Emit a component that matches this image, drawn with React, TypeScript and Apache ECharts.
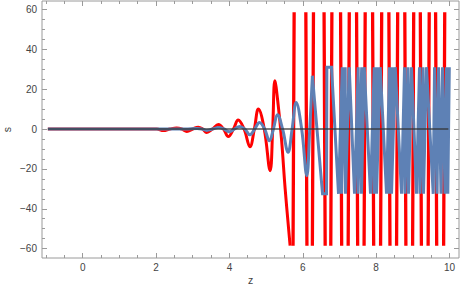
import React, { useEffect, useRef } from "react";
import * as echarts from "echarts";

// ---- axis ranges & ticks ----
const X_MIN = -1.11;
const X_MAX = 10.26;
const Y_MIN = -64.7;
const Y_MAX = 64.2;
const xMajor = [0, 2, 4, 6, 8, 10];
const xMinor = [-1, -0.5, 0.5, 1, 1.5, 2.5, 3, 3.5, 4.5, 5, 5.5, 6.5, 7, 7.5, 8.5, 9, 9.5];
const yMajor = [-60, -40, -20, 0, 20, 40, 60];
const yMinor = [-55, -50, -45, -35, -30, -25, -15, -10, -5, 5, 10, 15, 25, 30, 35, 45, 50, 55];

// ---- red curve (smooth part) ----
const redX = [-0.95, 1.9, 2.02, 2.2, 2.38, 2.56, 2.7, 2.84, 3.0, 3.15, 3.27, 3.38, 3.54, 3.7, 3.84, 3.97, 4.11, 4.24, 4.4, 4.56, 4.68, 4.79, 4.95, 5.11, 5.18, 5.24, 5.33, 5.42, 5.52, 5.655];
const redY = [0, 0, 0, -0.8, 0, 0.5, 0, -1.2, 0, 0.9, 0, -1.7, 0, 2.2, 0, -3.8, 0, 4.5, 0, -8.9, 0, 10, 0, -20.9, 0, 24.2, 12, -5, -30, -58.5];
// red beyond its clip range: x where the curve crosses the visible band (first one rising, then alternating)
const redCrossX = [5.75, 6.099, 6.277, 6.596, 6.779, 7.046, 7.253, 7.482, 7.687, 7.919, 8.137, 8.363, 8.573, 8.797, 9.01, 9.22, 9.433, 9.637, 9.856];
const RED_CLIP = 58.5;

// ---- blue curve ----
const blueX = [-0.95, 2.8, 3.12, 3.25, 3.38, 3.54, 3.7, 3.85, 4.0, 4.14, 4.28, 4.42, 4.56, 4.69, 4.82, 4.96, 5.09, 5.2, 5.31, 5.45, 5.6, 5.71, 5.82, 5.97, 6.11, 6.19, 6.263];
const blueY = [0, 0, 0.3, 0, -0.7, 0, 0.7, 0, -1.4, 0, 1.3, 0, -2.9, 0, 3.3, 0, -5.9, 0, 7.2, 0, -11.7, 0, 13.3, 0, -23.4, 0, 26.7];
// blue clipped part (polyline between its clip levels)
const blueClipX = [6.263, 6.539, 6.648, 6.657, 6.784,
  6.975, 7.076, 7.057, 7.158, 7.166, 7.267,
  7.411, 7.512, 7.507, 7.607, 7.602, 7.676,
  7.847, 7.948, 7.943, 8.03, 8.011, 8.112,
  8.284, 8.365, 8.352, 8.439, 8.42, 8.521,
  8.693, 8.775, 8.788, 8.87, 8.883, 8.965,
  9.102, 9.183, 9.197, 9.279, 9.292, 9.374,
  9.557, 9.593, 9.661, 9.702, 9.77, 9.811, 9.879, 9.92, 9.955, 9.996];
const blueClipY = [26.7, -32.5, -32.5, 31, 31,
  -32.5, 31, -32.5, 31, -32.5, 31,
  -32.5, 31, -32.5, 31, -32.5, 31,
  -32.5, 31, -32.5, 31, -32.5, 31,
  -32.5, 31, -32.5, 31, -32.5, 31,
  -32.5, 31, -32.5, 31, -32.5, 31,
  -32.5, 31, -32.5, 31, -32.5, 31,
  -32.5, 31, -32.5, 31, -32.5, 31, -32.5, 31, -32.5, 31];

// ---- zero line ----
const zeroX = [-0.95, 9.97];
const zeroY = [0, 0];

const RED = "#ff0000";
const BLUE = "#5e81b5";
const FRAME = "#9a9a9a";
const LABEL = "#444444";
const FONT = "Liberation Sans, Arial, sans-serif";

const minus = (v: number) => String(v).replace("-", "\u2212");

function zip(xs: number[], ys: number[]) {
  return xs.map((x, i) => [x, ys[i]]);
}

export default function App() {
  const ref = useRef<HTMLDivElement>(null);
  useEffect(() => {
    if (!ref.current) return;
    const chart = echarts.init(ref.current, null, { renderer: "svg" });

    const strokeHalf = 0.015;
    const redStrokes: any[] = [];
    redCrossX.forEach((x, i) => {
      const up = i % 2 === 0;
      redStrokes.push([x - strokeHalf, up ? -RED_CLIP : RED_CLIP]);
      redStrokes.push([x + strokeHalf, up ? RED_CLIP : -RED_CLIP]);
      redStrokes.push([x + strokeHalf, null]);
    });

    const xAx = (pos: string, values: number[], len: number, labels: boolean, extra: any = {}) => ({
      type: "value",
      min: X_MIN,
      max: X_MAX,
      position: pos,
      axisLine: { show: false, onZero: false },
      splitLine: { show: false },
      axisTick: { show: true, inside: true, length: len, customValues: values, lineStyle: { color: FRAME, width: 1 } },
      axisLabel: labels
        ? { show: true, customValues: values, margin: 4, color: LABEL, fontSize: 10, fontFamily: FONT, formatter: (v: number) => minus(v) }
        : { show: false },
      ...extra,
    });
    const yAx = (pos: string, values: number[], len: number, labels: boolean, extra: any = {}) => ({
      type: "value",
      min: Y_MIN,
      max: Y_MAX,
      position: pos,
      axisLine: { show: false, onZero: false },
      splitLine: { show: false },
      axisTick: { show: true, inside: true, length: len, customValues: values, lineStyle: { color: FRAME, width: 1 } },
      axisLabel: labels
        ? { show: true, customValues: values, margin: 5, color: LABEL, fontSize: 10, fontFamily: FONT, formatter: (v: number) => minus(v) }
        : { show: false },
      ...extra,
    });

    chart.setOption({
      animation: false,
      grid: {
        left: 42, right: 1, top: 1, bottom: 34,
        containLabel: false, outerBoundsMode: "none",
        show: true, borderColor: FRAME, borderWidth: 1, backgroundColor: "transparent",
      },
      xAxis: [
        xAx("bottom", xMajor, 5, true, {
          name: "z",
          nameLocation: "middle",
          nameGap: 16,
          nameMoveOverlap: false,
          nameTextStyle: { color: LABEL, fontSize: 10.5, fontFamily: FONT },
        }),
        xAx("bottom", xMinor, 3, false),
        xAx("top", xMajor, 5, false),
        xAx("top", xMinor, 3, false),
      ],
      yAxis: [
        yAx("left", yMajor, 5, true, {
          name: "s",
          nameLocation: "middle",
          nameGap: 30,
          nameRotate: 90,
          nameMoveOverlap: false,
          nameTextStyle: { color: LABEL, fontSize: 10.5, fontFamily: FONT },
        }),
        yAx("left", yMinor, 3, false),
        yAx("right", yMajor, 5, false),
        yAx("right", yMinor, 3, false),
      ],
      series: [
        {
          type: "line",
          data: zip(redX, redY),
          smooth: 0.4,
          showSymbol: false,
          symbol: "none",
          lineStyle: { color: RED, width: 3 },
          z: 2,
        },
        {
          type: "line",
          data: redStrokes,
          showSymbol: false,
          symbol: "none",
          connectNulls: false,
          lineStyle: { color: RED, width: 3.3 },
          z: 2,
        },
        {
          type: "line",
          data: zip(blueX, blueY),
          smooth: 0.4,
          showSymbol: false,
          symbol: "none",
          lineStyle: { color: BLUE, width: 3 },
          z: 3,
        },
        {
          type: "line",
          data: zip(blueClipX, blueClipY),
          showSymbol: false,
          symbol: "none",
          lineStyle: { color: BLUE, width: 3, join: "miter" },
          z: 3,
        },
        {
          type: "line",
          data: zip(zeroX, zeroY),
          showSymbol: false,
          symbol: "none",
          lineStyle: { color: "#333333", width: 1.5, opacity: 0.85 },
          z: 4,
        },
      ],
    });
    return () => chart.dispose();
  }, []);
  return <div ref={ref} style={{ position: "absolute", left: 0, top: 0, width: 460, height: 292 }} />;
}
